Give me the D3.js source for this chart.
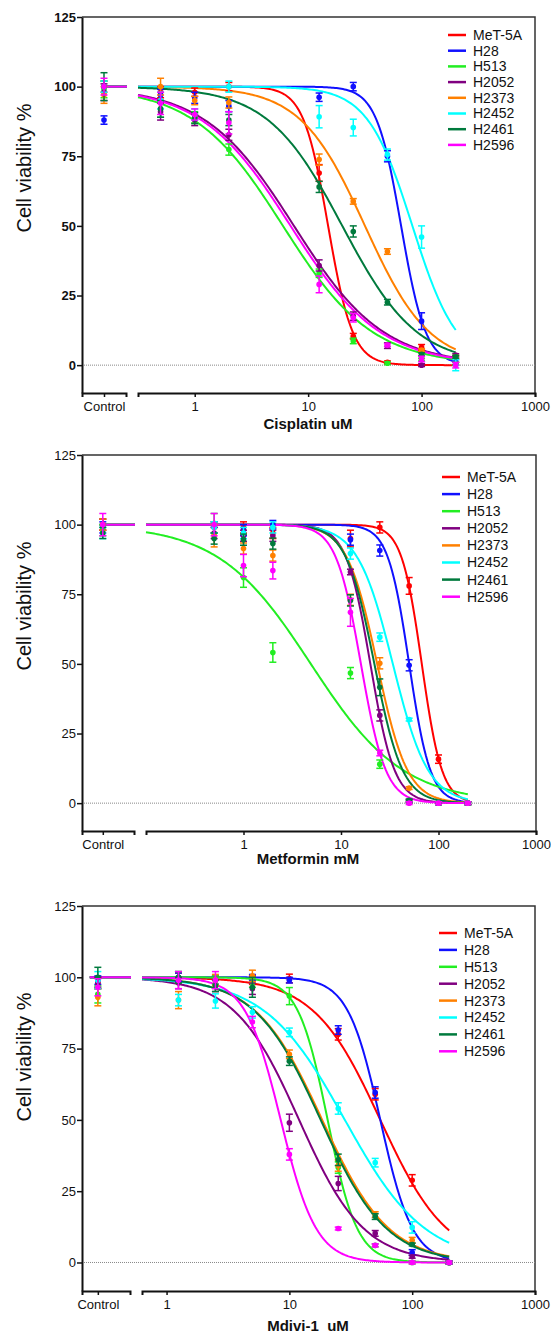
<!DOCTYPE html>
<html>
<head>
<meta charset="utf-8">
<script src="https://cdn.jsdelivr.net/npm/d3@7"></script>
<style>
  body { margin: 0; background: #fff; }
  svg { display: block; font-family: "Liberation Sans", Arial, sans-serif; }
</style>
</head>
<body>
<div id="chart"></div>
<script>
// Cell lines and their colours (same order in every panel)
var cellLines = ["MeT-5A", "H28", "H513", "H2052", "H2373", "H2452", "H2461", "H2596"];
var lineColors = ["#ff0000", "#1010ff", "#22ee22", "#800080", "#ff8000", "#00ffff", "#007a3d", "#ff00ff"];
var yTicks = [0, 25, 50, 75, 100, 125];
var xTicks = [1, 10, 100, 1000];

// Cisplatin (uM)
var cisDoses = [0.5, 1, 2, 12.5, 25, 50, 100, 200];
var cisControl = [100, 88, 99, 98, 97, 100, 100, 100];
var cisControlErr = [2, 1.5, 3, 3, 3, 2, 5, 3];
var cisViability = [
  [98, 98, 100, 69, 10.4, 1, 6.4, 0.5],
  [97, 96, 93, 96.2, 100, 75, 15.8, 1],
  [92, 89, 77.4, 33, 8.7, 0.7, 2, 0.5],
  [91, 88, 82.7, 35.8, 17.6, 7, 0, 3.6],
  [100, 95, 94.3, 73.8, 58.8, 40.8, 5.4, 3],
  [95, 90, 100, 89.2, 85.3, 75.6, 46, 0],
  [92, 88.7, 88, 64, 48, 22.6, 3.9, 3],
  [94, 90, 87, 29, 17, 7.2, 2.2, 0]
];
var cisError = [
  [2, 1.5, 1.5, 3, 1, 0.5, 1, 0.5],
  [2, 2, 2, 1.5, 1.5, 2, 3, 1],
  [3, 2, 2, 1.5, 1, 0.5, 0.5, 0.5],
  [3, 2, 2, 2, 1.5, 1, 0.5, 0.5],
  [3, 1.5, 2, 2, 1, 1, 0.5, 0.5],
  [3, 2, 2, 4, 3, 2, 4, 2],
  [3, 2, 2, 2, 2, 1, 0.5, 0.5],
  [4, 2, 4, 3, 1.5, 0.5, 1, 1]
];
var cisIC50 = [15, 66, 6, 7.5, 31.7, 83, 20, 7];
var cisHill = [4, 4, 1.1, 1.1, 1.53, 2.2, 1.32, 1.1];

// Metformin (mM)
var metDoses = [0.5, 1, 2, 12.5, 25, 50, 100, 200];
var metControl = [100, 99, 98, 100, 100, 97, 97, 100];
var metControlErr = [2, 2, 2, 2, 2, 2, 2, 4];
var metViability = [
  [99, 99, 97, 95, 99, 78, 15.8, 0],
  [100, 98, 100, 94.6, 90.7, 49.5, 0, 0],
  [100.5, 81, 54.1, 46.7, 14, 0.5, 0, 0],
  [97, 96, 96, 83, 31.5, 0.7, 0, 0],
  [96, 91.4, 88.9, 73, 50.2, 5.4, 0, 0],
  [99, 97, 99, 89.6, 59.6, 30, 0, 0],
  [95, 94.6, 93.2, 72.8, 41.6, 1, 0, 0],
  [100, 85.3, 83.5, 68.5, 18, 0, 0, 0]
];
var metError = [
  [2, 2, 2, 3, 2, 3, 1.5, 0.5],
  [1, 2, 1.5, 2, 2, 2, 0.5, 0.5],
  [3.5, 3.5, 3.5, 2, 1.5, 0.5, 0.5, 0.5],
  [2, 2, 2, 1, 2, 0.5, 0.5, 0.5],
  [4, 2, 2, 2, 2, 0.5, 0.5, 0.5],
  [2, 2, 2, 2, 1.5, 0.5, 0.5, 0.5],
  [2, 2, 2, 2, 3, 0.5, 0.5, 0.5],
  [4, 4, 3, 5, 1, 0.5, 0.5, 0.5]
];
var metIC50 = [67.4, 50, 4.9, 20, 23.5, 34, 22, 16];
var metHill = [4.2, 4, 0.92, 3.5, 2.8, 2.4, 3, 3.4];

// Mdivi-1 (uM)
var mdiDoses = [1.25, 2.5, 5, 10, 25, 50, 100, 200];
var mdiControl = [98, 99, 94, 98, 93, 99, 100, 96.5];
var mdiControlErr = [2, 1.5, 3, 2, 3, 3, 3.5, 3];
var mdiViability = [
  [100, 99, 99, 99.6, 80, 59, 28.8, 0],
  [100, 99, 100, 99, 81.5, 59.6, 3.5, 0],
  [100, 99, 98, 93.4, 33.3, 6, 0, 0],
  [98, 97, 96, 49, 27.7, 10.2, 2, 0],
  [92, 99, 100.5, 73, 34, 16.8, 7.8, 0],
  [92, 91.7, 87.7, 80.7, 54, 35, 12.3, 0],
  [100, 97, 96.5, 70.6, 36, 16.1, 6.3, 0],
  [99, 99, 84.3, 37.9, 11.9, 6, 0, 0]
];
var mdiError = [
  [1.5, 1.5, 1.5, 1.5, 2, 2, 2, 0.5],
  [1.5, 1.5, 1, 1, 1.5, 2, 1, 0.5],
  [2, 1.5, 1.5, 3, 2, 0.5, 0.5, 0.5],
  [2, 2, 2, 3, 2.5, 1, 0.5, 0.5],
  [3, 2, 2, 1.5, 2, 1, 1, 0.5],
  [2, 2.5, 2, 1.5, 2, 1.5, 2, 0.5],
  [2, 2, 3.5, 1.5, 2, 1, 0.5, 0.5],
  [3, 3, 2, 2, 0.5, 0.5, 0.5, 0.5]
];
var mdiIC50 = [55, 55, 20.5, 12, 18.5, 28.3, 18, 8.5];
var mdiHill = [1.6, 3.3, 3.6, 1.65, 1.6, 1.33, 1.62, 3];

var width = 551, height = 1334;

var svg = d3.select("#chart")
  .append("svg")
  .attr("width", width)
  .attr("height", height);

// Draw one dose-response panel
function drawPanel(p) {
  var y = d3.scaleLinear().domain([-10, 125]).range([p.bottom, p.top]);
  var x = d3.scaleLog().domain(p.xDomain).range([p.mainLeft, p.right]);
  var xc = d3.scalePoint().domain(["Control"])
    .range([p.left, p.ctrlRight]).padding(0.5).align(p.ctrlAlign);

  var g = svg.append("g");

  // top and right frame
  g.append("path")
    .attr("d", "M" + p.left + "," + y(125) + "H" + x(1000) + "V" + y(-10))
    .attr("fill", "none")
    .attr("stroke", "#333")
    .attr("stroke-width", 1.5);

  // dotted zero line
  g.append("line")
    .attr("x1", p.left).attr("x2", x(1000))
    .attr("y1", y(0)).attr("y2", y(0))
    .attr("stroke", "#888")
    .attr("stroke-width", 1)
    .attr("stroke-dasharray", "1,1");

  // Y axis
  var ya = g.append("g")
    .attr("transform", "translate(" + p.left + ",0)")
    .call(d3.axisLeft(y).tickValues(yTicks).tickSize(5).tickSizeOuter(0).tickPadding(1));
  ya.selectAll("text")
    .style("font-size", "13px")
    .style("font-weight", p.yTickWeight)
    .style("fill", "#111");

  // X axis: control segment and log segment
  var xca = g.append("g")
    .attr("transform", "translate(0," + p.bottom + ")")
    .call(d3.axisBottom(xc).tickSize(4).tickSizeOuter(4).tickPadding(5));
  var xa = g.append("g")
    .attr("transform", "translate(0," + p.bottom + ")")
    .call(d3.axisBottom(x).tickValues(xTicks).tickFormat(d3.format("d"))
      .tickSize(4).tickSizeOuter(4).tickPadding(5));
  [xca, xa].forEach(function (a) {
    a.selectAll("text").style("font-size", "13px").style("fill", "#111");
  });
  [ya, xca, xa].forEach(function (a) {
    a.select(".domain").attr("stroke", "#111").attr("stroke-width", 2);
    a.selectAll(".tick line").attr("stroke", "#111").attr("stroke-width", 1.5);
  });

  // fitted dose-response curves (4PL with top 100, bottom 0, from the read-off fit parameters)
  var lo = p.xDomain[0], hi = d3.max(p.doses);
  var xs = d3.range(0, 201).map(function (i) { return lo * Math.pow(hi / lo, i / 200); });
  var fit = function (c, i) { return 100 / (1 + Math.pow(c / p.ic50[i], p.hill[i])); };

  cellLines.forEach(function (name, i) {
    g.append("path")
      .datum(xs)
      .attr("fill", "none")
      .attr("stroke", lineColors[i])
      .attr("stroke-width", 2)
      .attr("d", d3.line()
        .x(function (d) { return x(d); })
        .y(function (d) { return y(fit(d, i)); }));
    // plateau drawn through the control segment
    g.append("line")
      .attr("x1", xc("Control") + p.ctrlLineOffset).attr("x2", p.ctrlRight + 1)
      .attr("y1", y(100)).attr("y2", y(100))
      .attr("stroke", lineColors[i])
      .attr("stroke-width", 2);
  });

  // points with SEM error bars
  cellLines.forEach(function (name, i) {
    var pts = p.doses.map(function (dose, j) {
      return { px: x(dose), v: p.values[i][j], e: p.errors[i][j] };
    });
    pts.unshift({ px: xc("Control"), v: p.control[i], e: p.controlErr[i] });

    var eb = g.append("g").attr("stroke", lineColors[i]).attr("stroke-width", 1.5);
    pts.forEach(function (d) {
      eb.append("line").attr("x1", d.px).attr("x2", d.px)
        .attr("y1", y(d.v - d.e)).attr("y2", y(d.v + d.e));
      eb.append("line").attr("x1", d.px - 3.5).attr("x2", d.px + 3.5)
        .attr("y1", y(d.v - d.e)).attr("y2", y(d.v - d.e));
      eb.append("line").attr("x1", d.px - 3.5).attr("x2", d.px + 3.5)
        .attr("y1", y(d.v + d.e)).attr("y2", y(d.v + d.e));
    });
    g.selectAll(null)
      .data(pts)
      .enter()
      .append("circle")
      .attr("cx", function (d) { return d.px; })
      .attr("cy", function (d) { return y(d.v); })
      .attr("r", 2.8)
      .attr("fill", lineColors[i]);
  });

  // legend
  var lg = g.append("g").attr("transform", "translate(" + p.legendX + "," + p.legendY + ")");
  cellLines.forEach(function (name, i) {
    var row = lg.append("g").attr("transform", "translate(0," + (i * p.legendStep) + ")");
    row.append("line")
      .attr("x1", 0).attr("x2", 18)
      .attr("stroke", lineColors[i])
      .attr("stroke-width", 2.5);
    row.append("text")
      .attr("x", 25)
      .attr("dy", "0.35em")
      .style("font-size", "14px")
      .style("fill", "#111")
      .text(name);
  });

  // axis titles
  g.append("text")
    .attr("transform", "translate(31," + (p.top + 151) + ") rotate(-90)")
    .attr("text-anchor", "middle")
    .style("font-size", "20px")
    .style("fill", "#111")
    .text("Cell viability %");

  g.append("text")
    .attr("x", 308)
    .attr("y", p.xLabelY)
    .attr("text-anchor", "middle")
    .style("font-size", "15px")
    .style("font-weight", "bold")
    .style("fill", "#111")
    .style("white-space", "pre")
    .text(p.xLabel);
}

drawPanel({
  top: 17, bottom: 393, left: 82, right: 535, mainLeft: 138, ctrlRight: 126,
  ctrlAlign: 0.5, ctrlLineOffset: 0, xDomain: [Math.pow(10, -0.5), 1000],
  doses: cisDoses, values: cisViability, errors: cisError,
  control: cisControl, controlErr: cisControlErr, ic50: cisIC50, hill: cisHill,
  yTickWeight: "bold", legendX: 448, legendY: 35, legendStep: 15.7,
  xLabel: "Cisplatin uM", xLabelY: 429
});

drawPanel({
  top: 455, bottom: 831, left: 82, right: 536, mainLeft: 146, ctrlRight: 134,
  ctrlAlign: 0.4, ctrlLineOffset: -3, xDomain: [0.1, 1000],
  doses: metDoses, values: metViability, errors: metError,
  control: metControl, controlErr: metControlErr, ic50: metIC50, hill: metHill,
  yTickWeight: "normal", legendX: 442, legendY: 477, legendStep: 17.1,
  xLabel: "Metformin mM", xLabelY: 864
});

drawPanel({
  top: 906, bottom: 1291, left: 82, right: 535, mainLeft: 142, ctrlRight: 130,
  ctrlAlign: 0.33, ctrlLineOffset: -8, xDomain: [Math.pow(10, -0.2), 1000],
  doses: mdiDoses, values: mdiViability, errors: mdiError,
  control: mdiControl, controlErr: mdiControlErr, ic50: mdiIC50, hill: mdiHill,
  yTickWeight: "normal", legendX: 439, legendY: 933, legendStep: 16.9,
  xLabel: "Mdivi-1  uM", xLabelY: 1331
});
</script>
</body>
</html>
